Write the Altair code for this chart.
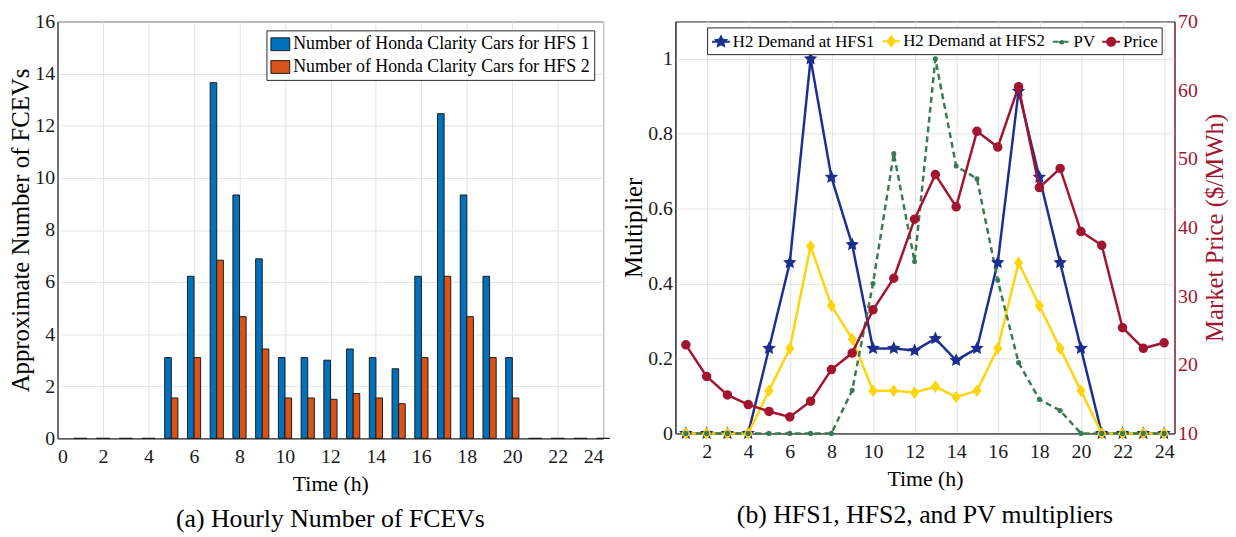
import math
import altair as alt
import pandas as pd

# ---------------- data ----------------
hours = list(range(1, 25))
hfs1_cars = [0, 0, 0, 0, 3.1, 6.22, 13.65, 9.34, 6.89, 3.1, 3.1, 3.0, 3.43, 3.1, 2.67, 6.22,
             12.46, 9.34, 6.22, 3.1, 0, 0, 0, 0]
hfs2_cars = [0, 0, 0, 0, 1.55, 3.1, 6.84, 4.67, 3.43, 1.55, 1.55, 1.5, 1.72, 1.55, 1.33, 3.1,
             6.22, 4.67, 3.1, 1.55, 0, 0, 0, 0]
hfs1_mult = [0, 0, 0, 0, 0.227, 0.456, 1.0, 0.684, 0.504, 0.227, 0.227, 0.221, 0.253, 0.195,
             0.227, 0.456, 0.914, 0.684, 0.456, 0.227, 0, 0, 0, 0]
hfs2_mult = [0, 0, 0, 0, 0.114, 0.227, 0.5, 0.341, 0.252, 0.114, 0.114, 0.109, 0.125, 0.097,
             0.114, 0.227, 0.456, 0.341, 0.227, 0.114, 0, 0, 0, 0]
pv_mult = [0, 0, 0, 0, 0, 0, 0, 0, 0.115, 0.4, 0.747, 0.459, 1.0, 0.714, 0.68, 0.409, 0.189,
           0.091, 0.061, 0, 0, 0, 0, 0]
price = [22.9, 18.3, 15.6, 14.2, 13.2, 12.4, 14.7, 19.3, 21.7, 28.0, 32.6, 41.2, 47.7, 43.0,
         54.0, 51.7, 60.5, 45.8, 48.6, 39.4, 37.4, 25.4, 22.4, 23.2]

bar_series = ["Number of Honda Clarity Cars for HFS 1", "Number of Honda Clarity Cars for HFS 2"]
line_series = ["H2 Demand at HFS1", "H2 Demand at HFS2", "PV", "Price"]

x_ticks_a = list(range(0, 25, 2))
y_ticks_a = list(range(0, 17, 2))
x_ticks_b = list(range(2, 25, 2))
y_ticks_b = [0, 0.2, 0.4, 0.6, 0.8, 1]
y2_ticks_b = [10, 20, 30, 40, 50, 60, 70]

# ---------------- style ----------------
FONT = "Liberation Serif"
BAR_COLORS = ["#0072BD", "#D95319"]
LINE_COLORS = ["#1d2f8e", "#ffd40a", "#3a7a55", "#a2142f"]
RED = "#a2142f"
GRID = "#e3e3e3"
DARK = "#262626"


def star_path(R=0.58, r=0.28, n=5):
    pts = []
    for i in range(2 * n):
        ang = -math.pi / 2 + i * math.pi / n
        rad = R if i % 2 == 0 else r
        pts.append((rad * math.cos(ang), rad * math.sin(ang)))
    return "M" + "L".join(f"{x:.3f},{y:.3f}" for x, y in pts) + "Z"


def circle_path(r):
    return f"M{r},0A{r},{r},0,1,1,{-r},0A{r},{r},0,1,1,{r},0Z"


DIAMOND = "M0,-0.55L0.4,0L0,0.55L-0.4,0Z"
MARKERS = [star_path(), DIAMOND, circle_path(0.2), circle_path(0.45)]
LEG_LINE = "M-1,0L1,0"
LEG_MARKERS = [LEG_LINE + m for m in MARKERS]
DASHES = [[1, 0], [1, 0], [6, 4], [1, 0]]
RECT = "M-1,-0.68H1V0.68H-1Z"

# ---------------- panel (a) ----------------
df_a = pd.DataFrame({
    "hour": hours + hours,
    "series": [bar_series[0]] * len(hours) + [bar_series[1]] * len(hours),
    "value": hfs1_cars + hfs2_cars,
})

bars = alt.Chart(df_a).transform_calculate(
    x0=f"datum.hour + (datum.series === '{bar_series[0]}' ? -0.285 : 0.005)",
    x1=f"datum.hour + (datum.series === '{bar_series[0]}' ? 0.005 : 0.295)",
    base="0",
).mark_bar(stroke="#1a1a1a", strokeWidth=1, opacity=1).encode(
    x=alt.X("x0:Q", scale=alt.Scale(domain=[0, 24], nice=False),
            axis=alt.Axis(values=x_ticks_a, title="Time (h)", titleFontSize=22, titlePadding=8,
                          labelPadding=8, grid=True, format="d")),
    x2=alt.X2("x1"),
    y=alt.Y("value:Q", scale=alt.Scale(domain=[0, 16], nice=False),
            axis=alt.Axis(values=y_ticks_a, title="Approximate Number of FCEVs", titleFontSize=25,
                          titlePadding=1, labelPadding=3, grid=True, format="d")),
    y2=alt.Y2("base"),
    color=alt.Color("series:N", scale=alt.Scale(domain=bar_series, range=BAR_COLORS),
                    legend=alt.Legend(title=None, orient="none", legendX=211, legendY=9,
                                      direction="vertical", labelFont=FONT, labelFontSize=18,
                                      labelColor="black", symbolType=RECT, symbolSize=361,
                                      symbolStrokeColor="#1a1a1a", symbolStrokeWidth=1,
                                      fillColor="white", strokeColor=DARK, padding=4,
                                      rowPadding=4, labelOffset=3, labelLimit=500)),
).properties(
    width=551, height=421,
    title=alt.TitleParams("(a) Hourly Number of FCEVs", orient="bottom", fontSize=26, font=FONT,
                          fontWeight="normal", offset=12, color="black"),
)

# ---------------- panel (b) ----------------
df_m = pd.DataFrame({
    "hour": hours * 3,
    "series": [line_series[0]] * 24 + [line_series[1]] * 24 + [line_series[2]] * 24,
    "value": hfs1_mult + hfs2_mult + pv_mult,
})
df_p = pd.DataFrame({"hour": hours, "price": price})

xb = alt.X("hour:Q", scale=alt.Scale(domain=[0.5, 24.5], nice=False),
           axis=alt.Axis(values=x_ticks_b, title="Time (h)", titleFontSize=22, titlePadding=8,
                         labelPadding=8, grid=True, format="d"))
y_scale_m = alt.Scale(domain=[0, 1.1], nice=False)
y_scale_p = alt.Scale(domain=[10, 70], nice=False)

color_scale = alt.Scale(domain=line_series, range=LINE_COLORS)

lines = alt.Chart(df_m).mark_line(strokeWidth=2.5).encode(
    x=xb,
    y=alt.Y("value:Q", scale=y_scale_m,
            axis=alt.Axis(values=y_ticks_b, title="Multiplier", titleFontSize=25, titlePadding=1,
                          labelPadding=3, grid=True, format="~g", orient="left")),
    color=alt.Color("series:N", scale=color_scale, legend=None),
    strokeDash=alt.StrokeDash("series:N", scale=alt.Scale(domain=line_series, range=DASHES),
                              legend=None),
)

points = alt.Chart(df_m).mark_point(filled=True, size=340, strokeWidth=1.5, opacity=1).encode(
    x=xb,
    y=alt.Y("value:Q", scale=y_scale_m, axis=None),
    color=alt.Color("series:N", scale=color_scale, legend=None),
    stroke=alt.Stroke("series:N", scale=color_scale, legend=None),
    shape=alt.Shape("series:N", scale=alt.Scale(domain=line_series, range=MARKERS),
                    legend=None),
)

price_line = alt.Chart(df_p).mark_line(strokeWidth=2.5, color=RED).encode(
    x=xb,
    y=alt.Y("price:Q", scale=y_scale_p,
            axis=alt.Axis(values=y2_ticks_b, title="Market Price ($/MWh)", titleFontSize=25,
                          titlePadding=5, labelPadding=3, grid=False, orient="right",
                          titleAngle=270, titleBaseline="top",
                          labelColor=RED, titleColor=RED, domainColor=RED, format="d")),
)

price_points = alt.Chart(df_p).mark_point(filled=True, size=324, strokeWidth=1.5, opacity=1,
                                           color=RED, stroke=RED, shape=MARKERS[3]).encode(
    x=xb,
    y=alt.Y("price:Q", scale=y_scale_p, axis=None),
)

# legend-only layer (no data rows drawn): line + marker symbols
leg = alt.Legend(title=None, orient="none", legendX=32, legendY=6, direction="horizontal",
                 columns=4, labelFont=FONT, labelFontSize=17, labelColor="black",
                 symbolSize=324, symbolStrokeWidth=2, padding=4, columnPadding=3,
                 labelOffset=2, labelLimit=500, fillColor="white", strokeColor=DARK)
legend_layer = alt.Chart(df_m).transform_filter("false").mark_point(
    filled=True, size=324, strokeWidth=2, opacity=1
).encode(
    color=alt.Color("series:N", scale=alt.Scale(domain=line_series, range=LINE_COLORS), legend=leg),
    stroke=alt.Stroke("series:N", scale=alt.Scale(domain=line_series, range=LINE_COLORS), legend=leg),
    shape=alt.Shape("series:N", scale=alt.Scale(domain=line_series, range=LEG_MARKERS), legend=leg),
    strokeDash=alt.StrokeDash("series:N", scale=alt.Scale(domain=line_series, range=DASHES), legend=leg),
)

right = alt.layer(lines, points, price_line, price_points, legend_layer).resolve_scale(
    y="independent", color="independent", shape="independent", strokeDash="independent",
    stroke="independent",
).properties(
    width=504, height=416,
    title=alt.TitleParams("(b) HFS1, HFS2, and PV multipliers", orient="bottom", fontSize=26,
                          font=FONT, fontWeight="normal", offset=12, color="black"),
)

chart = alt.hconcat(bars, right, spacing=10, padding=0).configure_view(
    stroke=DARK, strokeWidth=1
).configure_axis(
    labelFont=FONT, titleFont=FONT, labelFontSize=20, titleFontWeight="normal",
    labelColor="#1a1a1a", titleColor="black", gridColor=GRID, gridWidth=1,
    domainColor=DARK, ticks=False, tickSize=0,
).configure_title(font=FONT, fontWeight="normal")

chart.save("out.html", embed_options={"renderer": "svg", "actions": False})
